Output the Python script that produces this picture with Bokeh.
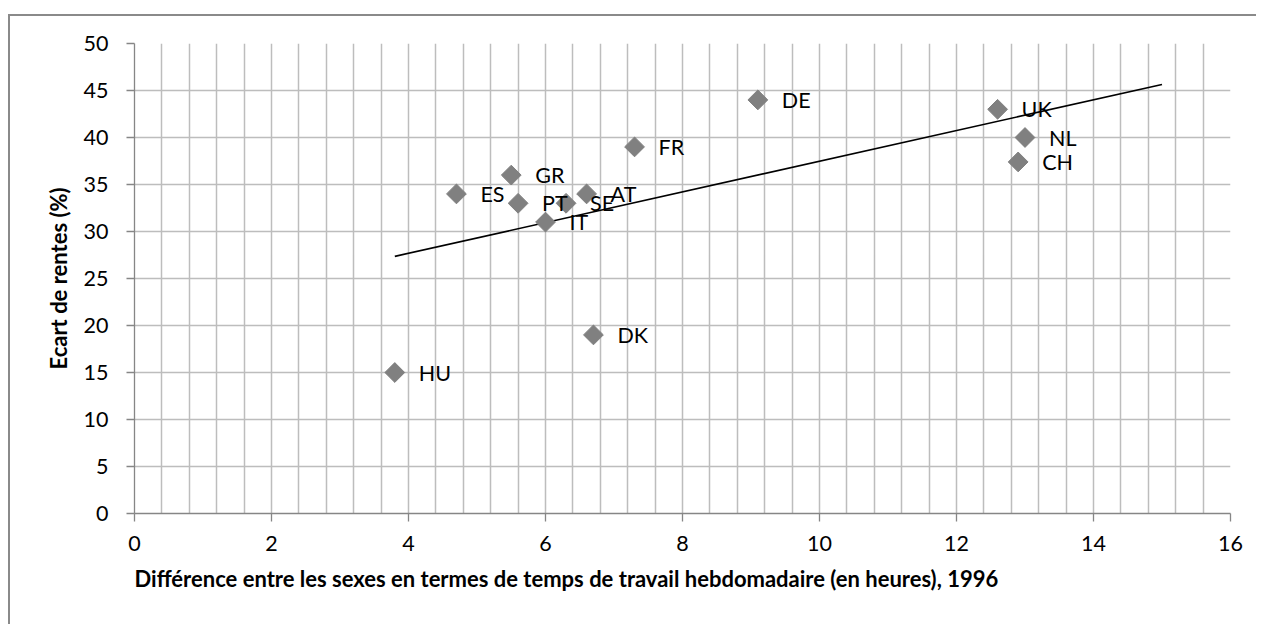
import numpy as np
from bokeh.plotting import figure
from bokeh.models import ColumnDataSource, SingleIntervalTicker, Range1d, Title
from bokeh.core.properties import value
from bokeh.embed import file_html
from bokeh.resources import INLINE

# ---- data ----
countries = ["HU", "ES", "GR", "PT", "IT", "SE", "AT", "DK", "FR", "DE", "UK", "NL", "CH"]
hours_gap = [3.8, 4.7, 5.5, 5.6, 6.0, 6.3, 6.6, 6.7, 7.3, 9.1, 12.6, 13.0, 12.9]
pension_gap = [15, 34, 36, 33, 31, 33, 34, 19, 39, 44, 43, 40, 37.4]
trend_x = [3.8, 15.0]

x_title = "Différence entre les sexes en termes de temps de travail hebdomadaire (en heures), 1996"
y_title = "Ecart de rentes (%)"

# linear trend (least squares, as Excel's trendline)
slope, intercept = np.polyfit(hours_gap, pension_gap, 1)
trend_y = [slope * v + intercept for v in trend_x]

FONT = "Lato"
GRID = "#bdbdbd"
AXIS = "#868686"
FS = "21.5px"
TFS = "22px"

p = figure(width=1248, height=610, output_backend="svg", toolbar_location=None,
           x_range=Range1d(0, 16), y_range=Range1d(0, 50),
           min_border_left=124, min_border_right=28, min_border_top=27, min_border_bottom=113)
p.margin = (14, 0, 0, 8)
p.styles = {"border-left": "2px solid #8a8a8a", "border-top": "2px solid #8a8a8a"}
p.outline_line_color = None
p.background_fill_color = "white"
p.border_fill_color = "white"

# axes
p.xaxis.ticker = SingleIntervalTicker(interval=2, num_minor_ticks=0)
p.yaxis.ticker = SingleIntervalTicker(interval=5, num_minor_ticks=0)
for ax in (p.xaxis[0], p.yaxis[0]):
    ax.axis_line_color = AXIS
    ax.axis_line_width = 1.3
    ax.major_tick_line_color = AXIS
    ax.major_tick_line_width = 1.3
    ax.major_tick_out = 8
    ax.major_tick_in = 0
    ax.minor_tick_line_color = None
    ax.major_label_text_font = FONT
    ax.major_label_text_font_size = FS
    ax.major_label_text_color = "black"
p.xaxis.major_label_standoff = 14
p.yaxis.major_label_standoff = 18

p.yaxis.axis_label = y_title
p.yaxis.axis_label_text_font = FONT
p.yaxis.axis_label_text_font_size = TFS
p.yaxis.axis_label_text_font_style = "bold"
p.yaxis.axis_label_text_color = "black"
p.yaxis.axis_label_standoff = 9

p.add_layout(Title(text=x_title, align="left", text_font=FONT, text_font_size=TFS,
                   text_font_style="bold", text_color="black", offset=0, standoff=18), "below")

# grids
p.xgrid.ticker = SingleIntervalTicker(interval=0.4, num_minor_ticks=0)
p.ygrid.ticker = SingleIntervalTicker(interval=5, num_minor_ticks=0)
for g in (p.xgrid[0], p.ygrid[0]):
    g.grid_line_color = GRID
    g.grid_line_width = 1.5

src = ColumnDataSource(dict(x=hours_gap, y=pension_gap, name=countries))

p.line(trend_x, trend_y, line_color="black", line_width=1.6)
p.scatter("x", "y", source=src, marker="square", angle=np.pi / 4, size=14,
          fill_color="#808080", line_color="#808080")
p.text("x", "y", text="name", source=src, x_offset=24, text_baseline="middle",
       text_align="left", text_font=value(FONT), text_font_size=FS, text_color="black")

open("out.html", "w").write(file_html(p, INLINE))
